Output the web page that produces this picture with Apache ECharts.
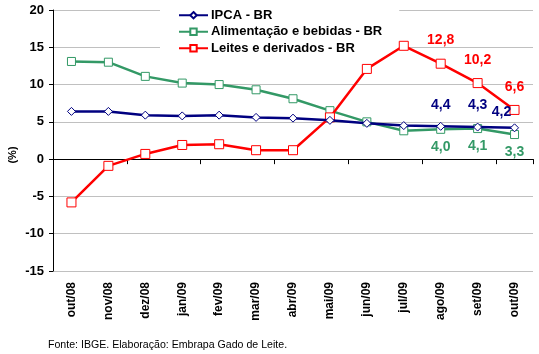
<!DOCTYPE html>
<html>
<head>
<meta charset="utf-8">
<script src="https://cdn.jsdelivr.net/npm/echarts@6/dist/echarts.min.js"></script>
<style>html,body{margin:0;padding:0;background:#fff}#c{width:539px;height:354px}</style>
</head>
<body>
<div id="c"></div>
<script>
var categories = ['out/08','nov/08','dez/08','jan/09','fev/09','mar/09','abr/09','mai/09','jun/09','jul/09','ago/09','set/09','out/09'];
var ipca = [6.4, 6.4, 5.9, 5.8, 5.9, 5.6, 5.5, 5.2, 4.8, 4.5, 4.4, 4.3, 4.2];
var alimentacao = [13.1, 13.0, 11.1, 10.2, 10.0, 9.3, 8.1, 6.5, 5.0, 3.8, 4.0, 4.1, 3.3];
var leites = [-5.8, -0.9, 0.7, 1.9, 2.0, 1.2, 1.2, 5.6, 12.1, 15.2, 12.8, 10.2, 6.6];
var yTicks = [-15, -10, -5, 0, 5, 10, 15, 20];
var labeledIdx = [10, 11, 12];

var FONT = '"Liberation Sans", Arial, sans-serif';

function build(values, color, pos, offsets) {
  return values.map(function (v, i) {
    var k = labeledIdx.indexOf(i);
    if (k < 0) return v;
    return {
      value: v,
      label: {
        show: true,
        position: pos,
        distance: 8,
        offset: offsets[k],
        color: color,
        fontFamily: FONT,
        fontWeight: 'bold',
        fontSize: 14,
        formatter: function (p) { return p.value.toFixed(1).replace('.', ','); }
      }
    };
  });
}

var chart = echarts.init(document.getElementById('c'), null, {renderer: 'canvas'});
chart.setOption({
  animation: false,
  backgroundColor: '#fff',
  grid: {left: 53, right: 6, top: 10, bottom: 83},
  legend: {
    orient: 'vertical',
    left: 160,
    top: 0,
    padding: [8, 17, 4, 18],
    backgroundColor: '#fff',
    itemWidth: 29,
    itemHeight: 8,
    itemGap: 2,
    textStyle: {fontFamily: FONT, fontSize: 13, fontWeight: 'bold', color: '#000', lineHeight: 14.5, padding: [0,0,0,-2]},
    data: ['IPCA - BR', 'Alimentação e bebidas - BR', 'Leites e derivados - BR']
  },
  xAxis: [{
    type: 'category',
    data: categories,
    boundaryGap: true,
    axisLine: {onZero: true, lineStyle: {color: '#000', width: 1}},
    axisTick: {show: true, length: 5, lineStyle: {color: '#000'}},
    axisLabel: {show: false},
    splitLine: {show: false}
  }, {
    type: 'category',
    data: categories,
    position: 'bottom',
    boundaryGap: true,
    axisLine: {show: false, onZero: false},
    axisTick: {show: false},
    axisLabel: {rotate: 90, margin: 11, color: '#000', fontFamily: FONT, fontWeight: 'bold', fontSize: 12, interval: 0},
    splitLine: {show: false}
  }],
  yAxis: {
    type: 'value',
    min: yTicks[0],
    max: yTicks[yTicks.length - 1],
    interval: 5,
    axisLine: {show: true, lineStyle: {color: '#000', width: 1}},
    axisTick: {show: true, length: 4, lineStyle: {color: '#000'}},
    axisLabel: {color: '#000', fontFamily: FONT, fontWeight: 'bold', fontSize: 13, margin: 9},
    splitLine: {show: true, lineStyle: {color: '#c0c0c0', width: 1}}
  },
  graphic: [{
    type: 'text', x: 13, y: 155, rotation: Math.PI / 2,
    style: {text: '(%)', align: 'center', verticalAlign: 'middle', font: 'bold 11px ' + FONT, fill: '#000'}
  }, {
    type: 'text', left: 48, top: 340,
    style: {text: 'Fonte: IBGE. Elaboração: Embrapa Gado de Leite.', font: '10.6px ' + FONT, fill: '#000'}
  }],
  series: [{
    name: 'IPCA - BR',
    type: 'line',
    xAxisIndex: 0,
    data: build(ipca, '#000080', 'top', [[0, -2], [0, -2], [-13, 4]]),
    symbol: 'diamond',
    symbolSize: 8,
    lineStyle: {color: '#000080', width: 2.5},
    itemStyle: {color: '#fff', borderColor: '#000080', borderWidth: 1},
    z: 5
  }, {
    name: 'Alimentação e bebidas - BR',
    type: 'line',
    xAxisIndex: 0,
    data: build(alimentacao, '#339966', 'bottom', [[0, -2], [0, -2], [0, -2]]),
    symbol: 'rect',
    symbolSize: 8,
    lineStyle: {color: '#339966', width: 2.5},
    itemStyle: {color: '#fff', borderColor: '#339966', borderWidth: 1},
    z: 2
  }, {
    name: 'Leites e derivados - BR',
    type: 'line',
    xAxisIndex: 0,
    data: build(leites, '#ff0000', 'top', [[0, -4], [0, -3], [0, -3]]),
    symbol: 'rect',
    symbolSize: 9,
    lineStyle: {color: '#ff0000', width: 2.5},
    itemStyle: {color: '#fff', borderColor: '#ff0000', borderWidth: 1},
    z: 4
  }]
});
</script>
</body>
</html>
